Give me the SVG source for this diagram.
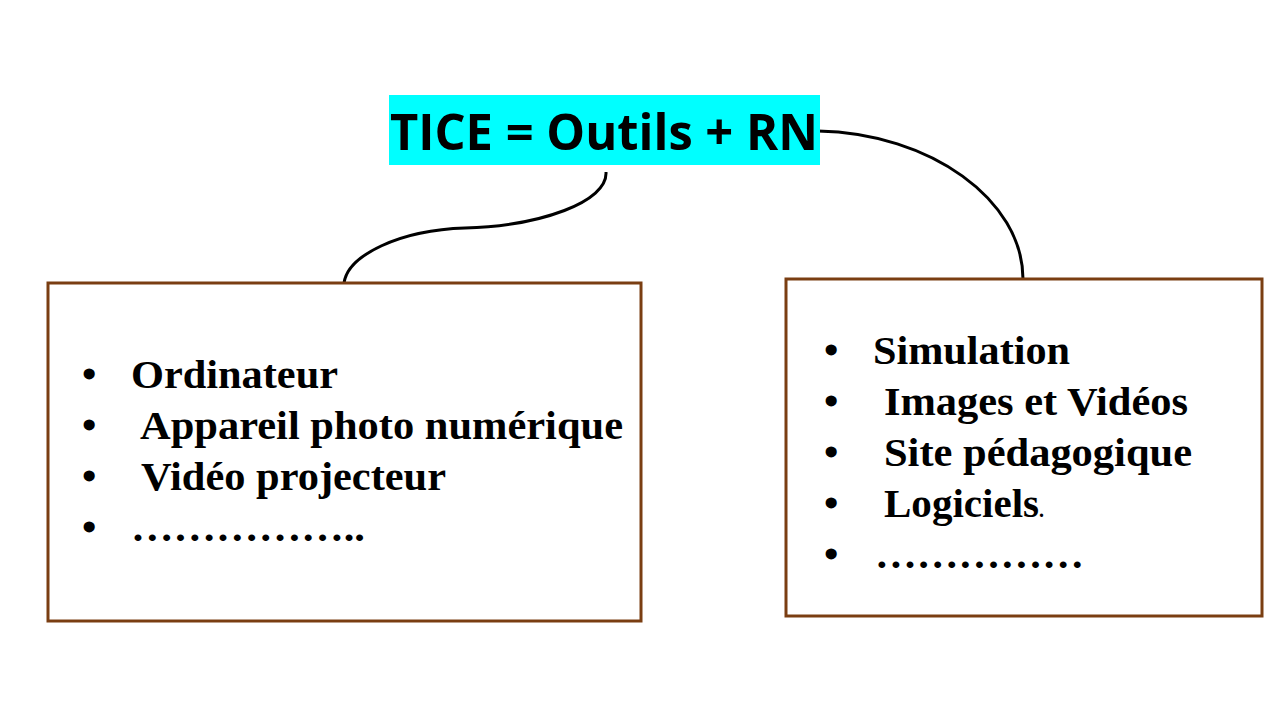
<svg xmlns="http://www.w3.org/2000/svg" width="1280" height="720" viewBox="0 0 1280 720">
<style>
.box{fill:#ffffff;stroke:#7a3e12;stroke-width:3}
.con{fill:none;stroke:#000000;stroke-width:3}
.item{font-family:"Liberation Serif","Times New Roman",serif;font-weight:bold;font-size:41px;fill:#000000}
.title{font-family:"Open Sans","Noto Sans","Liberation Sans",sans-serif;font-weight:bold;font-size:50px;fill:#000000}
</style>
<rect width="1280" height="720" fill="#ffffff"/>
<g id="connectors">
<path class="con" d="M606,172 C608,202 540,226 465,228 C400,230 348,255 344,283"/>
<path class="con" d="M818,131 C930,133 1023,200 1023,279"/>
</g>
<g id="title">
<rect x="389" y="95" width="431" height="70" fill="#00ffff"/>
<text class="title" x="604" y="150" text-anchor="middle" textLength="428" lengthAdjust="spacingAndGlyphs">TICE = Outils + RN</text>
</g>
<g id="outils">
<rect class="box" x="48" y="283" width="593" height="338"/>
<text class="item" x="82" y="388">•</text>
<text class="item" x="131" y="388" textLength="207" lengthAdjust="spacingAndGlyphs">Ordinateur</text>
<text class="item" x="82" y="439">•</text>
<text class="item" x="140" y="439" textLength="483" lengthAdjust="spacingAndGlyphs">Appareil photo numérique</text>
<text class="item" x="82" y="490">•</text>
<text class="item" x="141" y="490" textLength="305" lengthAdjust="spacingAndGlyphs">Vidéo projecteur</text>
<text class="item" x="82" y="541">•</text>
<text class="item" x="131" y="541" textLength="234" lengthAdjust="spacingAndGlyphs">……………..</text>
</g>
<g id="rn">
<rect class="box" x="786" y="279" width="476" height="337"/>
<text class="item" x="824" y="364">•</text>
<text class="item" x="873" y="364" textLength="197" lengthAdjust="spacingAndGlyphs">Simulation</text>
<text class="item" x="824" y="415">•</text>
<text class="item" x="884" y="415" textLength="304" lengthAdjust="spacingAndGlyphs">Images et Vidéos</text>
<text class="item" x="824" y="466">•</text>
<text class="item" x="884" y="466" textLength="308" lengthAdjust="spacingAndGlyphs">Site pédagogique</text>
<text class="item" x="824" y="517">•</text>
<text class="item" x="884" y="517"><tspan textLength="155" lengthAdjust="spacingAndGlyphs">Logiciels</tspan><tspan font-size="20px">.</tspan></text>
<text class="item" x="824" y="568">•</text>
<text class="item" x="875" y="568" textLength="209" lengthAdjust="spacingAndGlyphs">……………</text>
</g>
</svg>
